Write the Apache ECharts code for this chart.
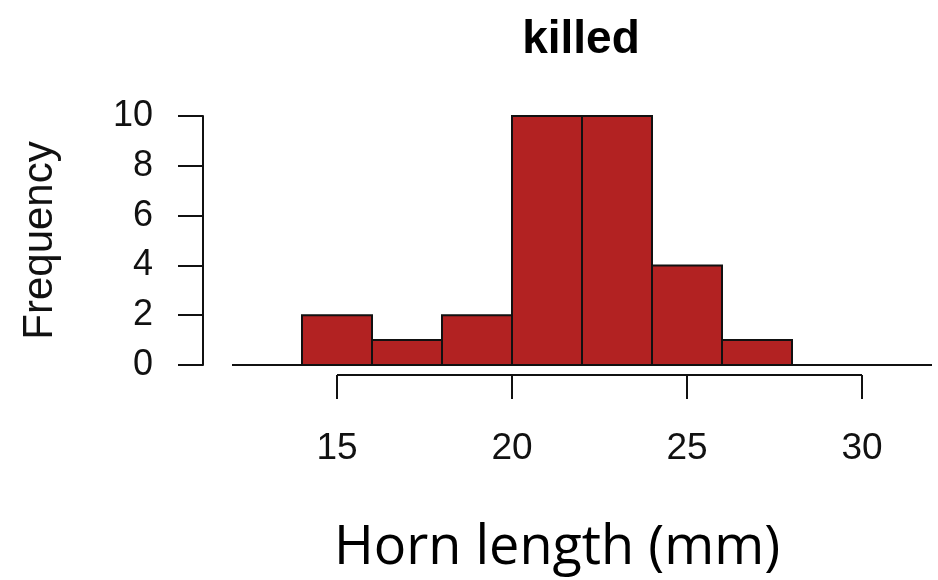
<!DOCTYPE html>
<html>
<head>
<meta charset="utf-8">
<style>
  html, body { margin: 0; padding: 0; background: #fff; }
  #chart { width: 938px; height: 580px; }
</style>
<script src="https://cdn.jsdelivr.net/npm/echarts@6/dist/echarts.min.js"></script>
</head>
<body>
<div id="chart"></div>
<script>
// Histogram bins (horn length, mm) and their counts
const binStarts = [14, 16, 18, 20, 22, 24, 26];
const binWidth = 2;
const counts = [2, 1, 2, 10, 10, 4, 1];
const xTicks = [15, 20, 25, 30];
const yTicks = [0, 2, 4, 6, 8, 10];
const xRange = [12, 32];
const titleText = 'killed';
const yLabel = 'Frequency';
const xLabel = 'Horn length (mm)';

const barColor = '#B22222';
const ink = '#111';
const axisGap = 10;     // distance of the x axis below the zero baseline
const tickLen = 24;

const chart = echarts.init(document.getElementById('chart'), null, { renderer: 'canvas' });

const bins = binStarts.map((s, i) => [s, s + binWidth, counts[i]]);

chart.setOption({
  animation: false,
  backgroundColor: '#fff',
  title: {
    text: titleText,
    left: 576,
    top: 12,
    textAlign: 'center',
    textStyle: { fontFamily: 'Liberation Sans', fontWeight: 'bold', fontSize: 46, color: '#000' }
  },
  grid: { left: 232, right: 6, top: 116, bottom: 215, containLabel: false },
  xAxis: {
    type: 'value',
    min: xRange[0],
    max: xRange[1],
    offset: 10,
    axisLine: { show: false },
    splitLine: { show: false },
    axisTick: { show: false },
    axisLabel: {
      customValues: xTicks,
      margin: 55,
      fontFamily: 'Liberation Sans',
      fontSize: 37,
      color: '#111'
    }
  },
  yAxis: {
    type: 'value',
    min: 0,
    max: 10,
    interval: 2,
    offset: 29,
    name: yLabel,
    nameLocation: 'middle',
    nameRotate: 90,
    nameGap: 142,
    nameTextStyle: { fontFamily: 'Liberation Sans', fontSize: 42, color: '#111' },
    axisLine: { show: true, lineStyle: { color: ink, width: 2 } },
    axisTick: { show: true, length: 25, lineStyle: { color: ink, width: 2 } },
    splitLine: { show: false },
    axisLabel: {
      margin: 50,
      fontFamily: 'Liberation Sans',
      fontSize: 36,
      color: '#111'
    }
  },
  graphic: [{
    type: 'text',
    style: {
      text: xLabel,
      x: 557,
      y: 549,
      align: 'center',
      verticalAlign: 'middle',
      fontFamily: 'Open Sans',
      fontSize: 54,
      fill: '#000'
    }
  }],
  series: [
    {
      // zero baseline across the full data range
      type: 'custom',
      silent: true,
      data: [[xRange[0], xRange[1]]],
      renderItem: (params, api) => {
        const a = api.coord([api.value(0), 0]);
        const b = api.coord([api.value(1), 0]);
        return {
          type: 'line',
          shape: { x1: a[0], y1: a[1], x2: b[0], y2: b[1] },
          style: { stroke: ink, lineWidth: 2 }
        };
      },
      z: 1
    },
    {
      // x axis line spanning only the labelled ticks
      type: 'custom',
      silent: true,
      data: [[xTicks[0], xTicks[xTicks.length - 1]]],
      renderItem: (params, api) => {
        const a = api.coord([api.value(0), 0]);
        const b = api.coord([api.value(1), 0]);
        return {
          type: 'line',
          shape: { x1: a[0], y1: a[1] + axisGap, x2: b[0], y2: b[1] + axisGap },
          style: { stroke: ink, lineWidth: 2 }
        };
      },
      z: 1
    },
    {
      // x axis ticks, hanging below the axis line
      type: 'custom',
      silent: true,
      data: xTicks.map(v => [v]),
      renderItem: (params, api) => {
        const p = api.coord([api.value(0), 0]);
        return {
          type: 'line',
          shape: { x1: p[0], y1: p[1] + axisGap, x2: p[0], y2: p[1] + axisGap + tickLen },
          style: { stroke: ink, lineWidth: 2 }
        };
      },
      z: 1
    },
    {
      // histogram bars
      type: 'custom',
      data: bins,
      renderItem: (params, api) => {
        const lo = api.coord([api.value(0), 0]);
        const hi = api.coord([api.value(1), api.value(2)]);
        return {
          type: 'rect',
          shape: { x: lo[0], y: hi[1], width: hi[0] - lo[0], height: lo[1] - hi[1] },
          style: { fill: barColor, stroke: ink, lineWidth: 2 }
        };
      },
      z: 2
    }
  ]
});
</script>
</body>
</html>
